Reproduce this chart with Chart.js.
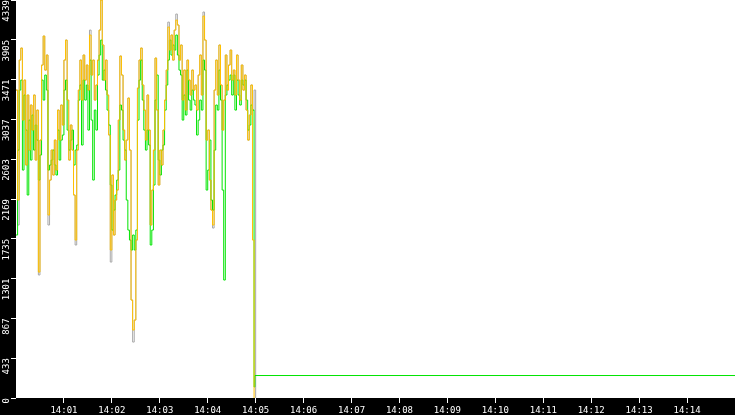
<!DOCTYPE html>
<html>
<head>
<meta charset="utf-8">
<script src="https://cdn.jsdelivr.net/npm/chart.js@4/dist/chart.umd.min.js"></script>
<style>
  html, body { margin: 0; padding: 0; background: #000; }
  #wrap { width: 735px; height: 415px; }
</style>
</head>
<body>
<div id="wrap"><canvas id="c" width="735" height="415"></canvas></div>
<script>
// Samples are taken every 2 seconds starting at 14:00:00 (seconds since 14:00)
const sampleStartSec = 0;
const sampleStepSec = 2;

const orangeValues = [
  3357, 2158, 3684, 3815, 3030, 3466, 2540, 3303, 2703, 3194,
  2921, 3303, 2594, 3139, 1373, 2812, 3630, 3946, 3575, 3739,
  1995, 2376, 2703, 2431, 2812, 2485, 3139, 2812, 3194, 2976,
  3684, 3902, 3248, 2594, 2976, 2703, 2213, 1722, 2703, 3357,
  3684, 3248, 3739, 3466, 3630, 3357, 3957, 3521, 3684, 3248,
  3412, 3684, 4011, 4339, 3848, 3466, 3684, 3303, 2867, 1613,
  2431, 1777, 2158, 2267, 3030, 3728, 3521, 2921, 2594, 2812,
  3270, 2703, 1068, 741, 850, 1722, 3379, 3684, 3815, 3412,
  3139, 2812, 3303, 2921, 1886, 2267, 2703, 3706, 3139, 2322,
  2703, 2540, 2921, 3248, 3575, 4044, 3793, 3957, 3684, 4011,
  4120, 4066, 3684, 3848, 3248, 3575, 3139, 3684, 3466, 3303,
  3575, 3357, 3412, 3139, 3521, 3739, 3303, 4164, 3902, 2812,
  2921, 2376, 2049, 1886, 3357, 3684, 3303, 3848, 3412, 2921,
  3248, 3739, 3357, 3630, 3793, 3466, 3575, 3303, 3739, 3466,
  3248, 3630, 3357, 3521, 3139, 2812, 3085, 3412, 1722, 0
];

const greenValues = [
  1777, 2703, 3357, 3466, 2485, 3303, 2921, 2213, 3030, 2594,
  3085, 2703, 2976, 2812, 2376, 2649, 3466, 3248, 3521, 3357,
  2485, 2540, 2594, 2703, 2540, 2431, 2921, 2594, 2812, 2867,
  3357, 3466, 2921, 2703, 2812, 2921, 2540, 2703, 2758, 3248,
  3412, 2758, 3466, 3248, 3412, 2921, 3684, 3030, 2376, 3139,
  2921, 3521, 3739, 3902, 3466, 3575, 3357, 3139, 2976, 2322,
  1831, 2049, 2213, 2376, 2485, 3194, 3139, 2812, 2703, 2158,
  1831, 1722, 1613, 1777, 1613, 1831, 3030, 3466, 3684, 3248,
  2921, 2703, 2921, 2758, 1668, 1831, 2322, 3248, 3521, 2594,
  2431, 2703, 2758, 3139, 3412, 3684, 3902, 3739, 3848, 3793,
  3957, 3739, 3575, 3521, 3030, 3303, 3085, 3575, 3248, 3139,
  3357, 3248, 3194, 2867, 3030, 3248, 3139, 3684, 3575, 2267,
  2485, 2812, 2158, 2049, 2703, 3194, 3139, 3575, 3248, 2267,
  1286, 3303, 3412, 3466, 3521, 3303, 3521, 3139, 3466, 3303,
  3194, 3466, 3412, 3466, 3248, 2921, 2976, 3194, 3139, 120
];
const greenTailSec = [299, 900];
const greenTailValues = [245, 245];

const grayValues = [
  3357, 1886, 3684, 3815, 3030, 3466, 2540, 3303, 2703, 3194,
  2921, 3303, 2594, 3139, 1341, 2812, 3630, 3946, 3575, 3739,
  1886, 2376, 2703, 2431, 2812, 2485, 3139, 2812, 3194, 2976,
  3684, 3902, 3248, 2594, 2976, 2703, 2213, 1668, 2703, 3357,
  3684, 3248, 3739, 3466, 3630, 3357, 4011, 3521, 3684, 3248,
  3412, 3684, 4011, 4339, 3848, 3466, 3684, 3303, 2867, 1482,
  2431, 1777, 2158, 2267, 3030, 3728, 3521, 2921, 2594, 2812,
  3270, 2703, 1068, 610, 850, 1722, 3379, 3684, 3815, 3412,
  3139, 2812, 3303, 2921, 1886, 2267, 2703, 3706, 3139, 2322,
  2703, 2540, 2921, 3248, 3575, 4098, 3793, 3957, 3684, 4011,
  4186, 4066, 3684, 3848, 3248, 3575, 3139, 3684, 3466, 3303,
  3575, 3357, 3412, 3139, 3521, 3739, 3303, 4208, 3902, 2812,
  2921, 2376, 2049, 1853, 3357, 3684, 3303, 3848, 3412, 2921,
  3248, 3739, 3357, 3630, 3793, 3466, 3575, 3303, 3739, 3466,
  3248, 3630, 3357, 3521, 3139, 2812, 3085, 3412, 3139, 3357
];
const grayTailSec = [300];
const grayTailValues = [0];

const xTickSec = [60, 120, 180, 240, 300, 360, 420, 480, 540, 600, 660, 720, 780, 840];
const xTickLabels = ['14:01', '14:02', '14:03', '14:04', '14:05', '14:06', '14:07',
                     '14:08', '14:09', '14:10', '14:11', '14:12', '14:13', '14:14'];
const yTickValues = [0, 433.9, 867.8, 1301.7, 1735.6, 2169.5, 2603.4, 3037.3, 3471.2, 3905.1, 4339];
const yTickLabels = ['0', '433', '867', '1301', '1735', '2169', '2603', '3037', '3471', '3905', '4339'];

function toPoints(values, tailSec, tailValues) {
  const pts = values.map((v, i) => ({ x: sampleStartSec + i * sampleStepSec, y: v }));
  (tailSec || []).forEach((t, j) => pts.push({ x: t, y: tailValues[j] }));
  return pts;
}

const bgPlugin = {
  id: 'bg',
  beforeDraw(chart) {
    const { ctx, chartArea: a, width, height } = chart;
    ctx.save();
    ctx.fillStyle = '#000';
    ctx.fillRect(0, 0, width, height);
    ctx.fillStyle = '#fff';
    ctx.fillRect(a.left, a.top, a.right - a.left, a.bottom - a.top);
    ctx.restore();
  }
};

const lineDs = (label, data, color) => ({
  label, data, borderColor: color, backgroundColor: color,
  borderWidth: 1, pointRadius: 0, tension: 0, fill: false, stepped: true
});

new Chart(document.getElementById('c'), {
  type: 'line',
  data: {
    datasets: [
      lineDs('orange', toPoints(orangeValues), '#FFC000'),
      lineDs('green', toPoints(greenValues, greenTailSec, greenTailValues), '#00E400'),
      lineDs('gray', toPoints(grayValues, grayTailSec, grayTailValues), '#A8A8A8')
    ]
  },
  options: {
    responsive: false,
    devicePixelRatio: 1,
    animation: false,
    layout: { padding: 0 },
    plugins: { legend: { display: false }, tooltip: { enabled: false } },
    scales: {
      x: {
        type: 'linear', min: 0, max: 900,
        afterBuildTicks(scale) { scale.ticks = xTickSec.map(v => ({ value: v })); },
        afterFit(scale) { scale.height = 17; scale.paddingLeft = 0; scale.paddingRight = 0; },
        border: { display: false },
        grid: { drawOnChartArea: false, tickLength: 5, tickColor: '#fff', tickWidth: 1 },
        ticks: {
          autoSkip: false, maxRotation: 0, minRotation: 0, padding: 2,
          color: '#fff', font: { family: 'DejaVu Sans Mono', size: 9 },
          callback(v, i) { return xTickLabels[i]; }
        }
      },
      y: {
        type: 'linear', min: 0, max: 4339,
        afterBuildTicks(scale) { scale.ticks = yTickValues.map(v => ({ value: v })); },
        afterFit(scale) { scale.width = 16; scale.paddingTop = 0; scale.paddingBottom = 0; },
        border: { display: false },
        grid: { drawOnChartArea: false, tickLength: 5, tickColor: '#fff', tickWidth: 1 },
        ticks: {
          autoSkip: false, minRotation: 90, maxRotation: 90, padding: 4,
          color: '#fff', font: { family: 'DejaVu Sans Mono', size: 9 },
          callback(v, i) { return yTickLabels[i]; }
        }
      }
    }
  },
  plugins: [bgPlugin]
});
</script>
</body>
</html>
